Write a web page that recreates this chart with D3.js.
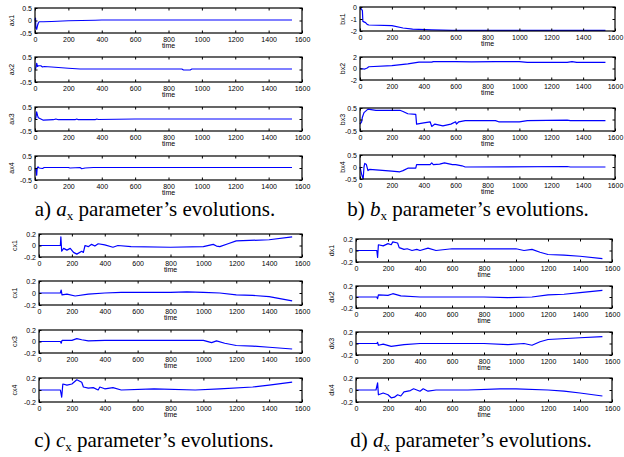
<!DOCTYPE html>
<html><head><meta charset="utf-8">
<script src="https://cdn.jsdelivr.net/npm/d3@7"></script>
<style>
html,body{margin:0;padding:0;background:#fff;}
svg{display:block;}
.tk{font-family:"Liberation Sans",Arial,sans-serif;font-size:7px;fill:#000;}
.cap{font-family:"Liberation Serif","Times New Roman",serif;font-size:21px;fill:#000;}
</style></head>
<body>
<svg id="c" width="624" height="457"></svg>
<script>
// ---------- data ----------
const xTicks = [0,200,400,600,800,1000,1200,1400,1600];
const tickHalf = [-0.5,0,0.5];
const tickFifth = [-0.2,0,0.2];
const tickBx1 = [-2,-1,0];
const tickBx2 = [-2,0,2];

const ax1 = [[0,0],[3,0.1],[5,-0.3],[10,-0.35],[15,-0.2],[20,-0.1],[25,-0.05],[50,-0.05],[100,-0.04],[200,-0.01],[360,0.01],[400,0.02],[1540,0.02]];
const ax2 = [[0,0],[5,0.05],[10,0.25],[15,0.12],[20,0.15],[35,0.15],[45,0.1],[55,0.12],[100,0.1],[200,0.05],[270,0.02],[880,0.02],[890,-0.02],[930,-0.02],[940,0.02],[1540,0.02]];
const ax3 = [[0,0],[5,0.05],[10,0.3],[15,0.15],[20,0.05],[35,0],[50,-0.05],[110,-0.03],[125,0],[140,-0.03],[240,-0.03],[250,0],[260,-0.03],[360,-0.03],[370,0],[380,-0.02],[600,0],[1540,0]];
const ax4 = [[0,0],[5,-0.05],[10,-0.3],[13,0],[18,0.05],[25,0],[45,-0.02],[55,0.02],[200,0.02],[210,0],[270,0.02],[280,-0.03],[300,0],[350,0.02],[1540,0.02]];

const bx1 = [[0,0],[10,-0.2],[15,-0.3],[18,-1.2],[35,-1.3],[45,-1.45],[55,-1.5],[200,-1.55],[270,-1.75],[330,-1.85],[450,-1.9],[580,-1.95],[1540,-1.95]];
const bx2 = [[0,0],[30,-0.1],[45,0.1],[55,0.3],[200,0.5],[300,0.8],[370,1.1],[450,1.1],[460,1.2],[600,1.2],[700,1.15],[850,1.2],[1000,1.2],[1050,1.05],[1300,1.05],[1330,1.2],[1360,1.05],[1540,1.05]];
const bx3 = [[0,-0.2],[10,-0.1],[15,0.1],[25,0.3],[50,0.45],[100,0.4],[250,0.4],[270,0.35],[300,0.25],[350,0.22],[355,-0.2],[400,-0.15],[440,-0.1],[450,-0.3],[470,-0.2],[520,-0.28],[570,-0.2],[600,-0.1],[605,-0.2],[620,-0.1],[660,-0.05],[850,-0.05],[870,-0.1],[1000,-0.1],[1050,-0.05],[1300,-0.03],[1320,-0.05],[1540,-0.05]];
const bx4 = [[0,0],[10,-0.3],[20,-0.5],[25,0],[30,0.15],[40,0.1],[50,-0.15],[60,-0.1],[100,-0.12],[200,-0.17],[250,-0.2],[270,-0.15],[300,-0.05],[350,-0.05],[355,0.1],[440,0.1],[450,0.17],[460,0.1],[500,0.12],[530,0.17],[580,0.1],[600,0.1],[640,0.05],[660,0],[1300,0.02],[1320,0],[1540,0]];

const cx1a = [[0,0],[130,0],[133,0.15],[138,-0.1],[150,-0.05],[170,-0.08],[190,-0.05],[210,-0.12],[230,-0.15],[260,-0.1],[270,-0.12],[280,0],[300,-0.02],[320,0.02],[340,-0.01],[360,0.03],[400,0.01],[450,-0.03],[480,0],[560,-0.02],[800,-0.03],[1000,-0.02],[1060,0.02],[1080,-0.01],[1100,-0.02],[1150,0.03],[1200,0.08],[1400,0.1],[1540,0.15]];
const cx1b = [[0,0],[130,0],[135,0.05],[140,-0.03],[170,-0.02],[220,-0.05],[300,-0.02],[400,0],[500,0.01],[800,0.01],[900,0.02],[1000,0.01],[1100,0],[1200,-0.03],[1300,-0.04],[1400,-0.06],[1540,-0.13]];
const cx3 = [[0,0],[130,0],[135,-0.03],[140,0.02],[200,0.02],[230,0.05],[260,0.03],[300,0.01],[400,0.02],[600,0.02],[1000,0.02],[1050,-0.02],[1080,0.01],[1130,-0.03],[1200,-0.07],[1300,-0.08],[1400,-0.1],[1540,-0.13]];
const cx4 = [[0,0],[130,0],[138,-0.12],[145,0.1],[170,0.08],[200,0.1],[230,0.17],[260,0.13],[270,0.05],[300,0.03],[330,0.04],[360,0],[370,0.05],[400,0.02],[450,0.04],[500,0],[700,0.02],[950,0],[1100,0.02],[1300,0.05],[1400,0.08],[1540,0.13]];

const dx1 = [[0,0],[130,0],[135,-0.12],[140,0.1],[170,0.08],[200,0.12],[220,0.1],[230,0.15],[260,0.13],[270,0.05],[300,0.02],[320,0.03],[350,0],[380,0.02],[400,0],[450,0.04],[500,0],[600,0.03],[1000,0.03],[1050,0],[1100,0.02],[1150,-0.03],[1200,-0.07],[1300,-0.08],[1400,-0.1],[1540,-0.14]];
const dx2 = [[0,0],[130,0],[135,-0.03],[140,0.04],[200,0.03],[230,0.06],[280,0.02],[400,0],[800,0],[950,-0.01],[1100,0],[1200,0.04],[1300,0.05],[1400,0.08],[1540,0.12]];
const dx3 = [[0,0],[130,0],[135,0.02],[140,-0.03],[170,-0.01],[220,-0.05],[300,-0.02],[400,0],[800,0],[950,-0.02],[1050,0],[1100,-0.03],[1150,0.03],[1200,0.07],[1400,0.1],[1540,0.12]];
const dx4 = [[0,0],[125,0],[135,0.12],[140,-0.08],[170,-0.05],[200,-0.08],[220,-0.13],[240,-0.12],[260,-0.08],[280,-0.1],[300,-0.03],[340,-0.01],[360,0.02],[400,-0.02],[420,0.02],[450,-0.02],[500,0],[700,0],[900,0.02],[1000,0.02],[1200,0],[1300,-0.02],[1400,-0.05],[1540,-0.1]];

// ---------- layout ----------
const panels = [
  {letter:"a", x0:35, x1:302, capX:155, capY:216, labX:12,
   rows:[{lab:"ax1",d:ax1,dom:[-0.5,0.5],t:tickHalf,y0:8,y1:33},
         {lab:"ax2",d:ax2,dom:[-0.5,0.5],t:tickHalf,y0:57,y1:82},
         {lab:"ax3",d:ax3,dom:[-0.5,0.5],t:tickHalf,y0:107,y1:131},
         {lab:"ax4",d:ax4,dom:[-0.5,0.5],t:tickHalf,y0:156,y1:180}]},
  {letter:"b", x0:360, x1:615, capX:468, capY:216, labX:343,
   rows:[{lab:"bx1",d:bx1,dom:[-2,0],t:tickBx1,y0:7,y1:31},
         {lab:"bx2",d:bx2,dom:[-2,2],t:tickBx2,y0:57,y1:80},
         {lab:"bx3",d:bx3,dom:[-0.5,0.5],t:tickHalf,y0:108,y1:131},
         {lab:"bx4",d:bx4,dom:[-0.5,0.5],t:tickHalf,y0:155,y1:179}]},
  {letter:"c", x0:39, x1:302, capX:154, capY:447, labX:15,
   rows:[{lab:"cx1",d:cx1a,dom:[-0.2,0.2],t:tickFifth,y0:234,y1:257},
         {lab:"cx1",d:cx1b,dom:[-0.2,0.2],t:tickFifth,y0:281,y1:305},
         {lab:"cx3",d:cx3,dom:[-0.2,0.2],t:tickFifth,y0:330,y1:353},
         {lab:"cx4",d:cx4,dom:[-0.2,0.2],t:tickFifth,y0:378,y1:402}]},
  {letter:"d", x0:356, x1:612, capX:471, capY:447, labX:332,
   rows:[{lab:"dx1",d:dx1,dom:[-0.2,0.2],t:tickFifth,y0:239,y1:262},
         {lab:"dx2",d:dx2,dom:[-0.2,0.2],t:tickFifth,y0:286,y1:308},
         {lab:"dx3",d:dx3,dom:[-0.2,0.2],t:tickFifth,y0:332,y1:355},
         {lab:"dx4",d:dx4,dom:[-0.2,0.2],t:tickFifth,y0:378,y1:402}]}
];

const svg = d3.select("#c");
const fmt = v => String(v);

panels.forEach(p => {
  const x = d3.scaleLinear().domain([0,1600]).range([p.x0,p.x1]);
  p.rows.forEach(r => {
    const y = d3.scaleLinear().domain(r.dom).range([r.y1,r.y0]);
    const g = svg.append("g");
    g.append("path").datum(r.d)
      .attr("fill","none").attr("stroke","#0000ff").attr("stroke-width",1.2)
      .attr("stroke-linejoin","round")
      .attr("d", d3.line().x(d=>x(d[0])).y(d=>y(d[1])));
    const bx = g.append("g").attr("transform",`translate(0,${r.y1})`)
      .call(d3.axisBottom(x).tickValues(xTicks).tickSize(-2.5).tickPadding(4).tickFormat(fmt));
    bx.select(".domain").remove();
    bx.selectAll("text").attr("class","tk").attr("font-size",null).attr("font-family",null);
    const tx = g.append("g").attr("transform",`translate(0,${r.y0})`)
      .call(d3.axisTop(x).tickValues(xTicks).tickSize(-2.5).tickFormat(""));
    tx.select(".domain").remove();
    const ly = g.append("g").attr("transform",`translate(${p.x0},0)`)
      .call(d3.axisLeft(y).tickValues(r.t).tickSize(-2.5).tickPadding(3).tickFormat(fmt));
    ly.select(".domain").remove();
    ly.selectAll("text").attr("class","tk").attr("font-size",null).attr("font-family",null);
    const ry = g.append("g").attr("transform",`translate(${p.x1},0)`)
      .call(d3.axisRight(y).tickValues(r.t).tickSize(-2.5).tickFormat(""));
    ry.select(".domain").remove();
    g.selectAll(".tick line").attr("stroke","#000");
    g.append("rect").attr("x",p.x0).attr("y",r.y0)
      .attr("width",p.x1-p.x0).attr("height",r.y1-r.y0)
      .attr("fill","none").attr("stroke","#000").attr("stroke-width",1.2);
    g.append("text").attr("class","tk").attr("text-anchor","middle")
      .attr("x",(p.x0+p.x1)/2).attr("y",r.y1+15).text("time");
    g.append("text").attr("class","tk").attr("text-anchor","middle")
      .attr("transform",`translate(${p.labX},${(r.y0+r.y1)/2}) rotate(-90)`)
      .attr("dy","0.35em").text(r.lab);
  });
  const t = svg.append("text").attr("class","cap").attr("text-anchor","middle")
    .attr("x",p.capX).attr("y",p.capY);
  t.append("tspan").text(p.letter + ") ");
  t.append("tspan").attr("font-style","italic").text(p.letter);
  t.append("tspan").attr("font-size","13px").attr("dy","4").text("x");
  t.append("tspan").attr("dy","-4").text(" parameter\u2019s evolutions.");
});
</script>
</body></html>
